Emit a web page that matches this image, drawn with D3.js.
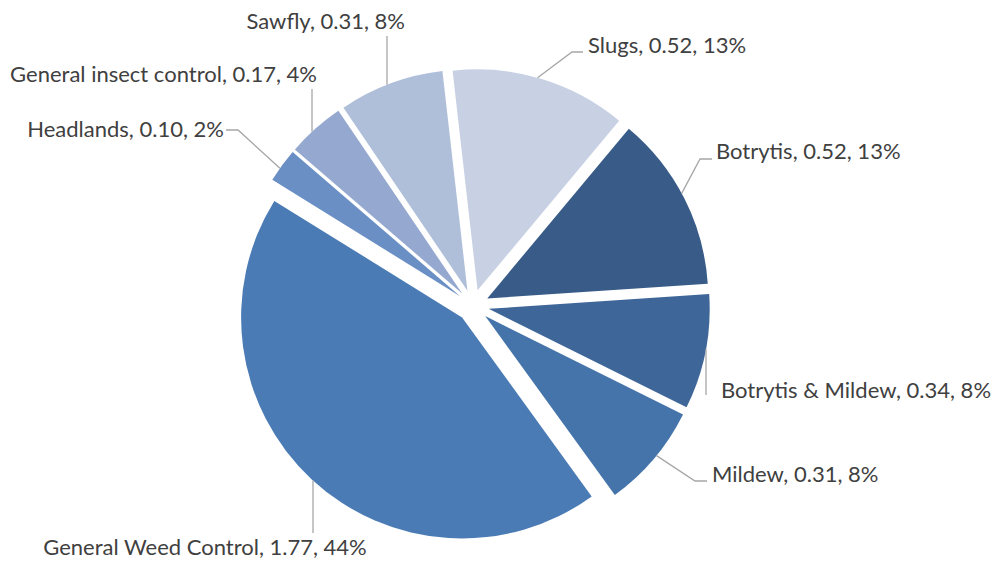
<!DOCTYPE html>
<html>
<head>
<meta charset="utf-8">
<script src="https://cdn.jsdelivr.net/npm/d3@7"></script>
<style>
  html, body { margin: 0; padding: 0; background: #fff; }
  svg { display: block; }
</style>
</head>
<body>
<div id="chart"></div>
<script>
// data
var categories = ["Slugs", "Botrytis", "Botrytis & Mildew", "Mildew",
                  "General Weed Control", "Headlands", "General insect control", "Sawfly"];
var values = [0.52, 0.52, 0.34, 0.31, 1.77, 0.10, 0.17, 0.31];
var colors = ["#c8d1e4", "#385b88", "#3e6699", "#4574aa",
              "#4a7bb5", "#6a8fc5", "#94a8d0", "#afbfda"];

// label placement (dragged by hand in the original)
var labelLayout = [
  { x: 588, y: 53,  anchor: "start",  leader: [[583, 52], [572, 52]], frac: 0.48 },
  { x: 716, y: 159, anchor: "start",  leader: [[712, 159], [700, 159]], frac: 0.47 },
  { x: 721, y: 398, anchor: "start",  leader: [[706, 395]], dropX: 706 },
  { x: 712, y: 482, anchor: "start",  leader: [[707, 481], [695, 481]], frac: 0.46 },
  { x: 205, y: 555, anchor: "middle", leader: [[313, 533]], dropX: 313 },
  { x: 224, y: 137, anchor: "end",    leader: [[226, 130], [238, 130]], frac: 0.4 },
  { x: 317, y: 82,  anchor: "end",    leader: [[312, 89]], dropX: 312 },
  { x: 405, y: 29,  anchor: "end",    leader: [[387, 36]], dropX: 387 }
];

var width = 995, height = 564;
var cx = 473, cy = 305.7;
var radius = 221;
var explode = 16;
var rotation = -6.5 * Math.PI / 180; // first slice angle

var total = d3.sum(values);
var fmtVal = d3.format(".2f");
var fmtPct = d3.format(".0%");

var svg = d3.select("#chart").append("svg")
    .attr("width", width)
    .attr("height", height);

svg.append("rect").attr("width", width).attr("height", height).attr("fill", "#fff");

var pie = d3.pie().sort(null)
    .startAngle(rotation)
    .endAngle(rotation + 2 * Math.PI)
    .value(function(d) { return d; });
var arc = d3.arc().innerRadius(0).outerRadius(radius);

var slices = pie(values);

// apex of each exploded slice
slices.forEach(function(s) {
  var mid = (s.startAngle + s.endAngle) / 2;
  s.ax = cx + explode * Math.sin(mid);
  s.ay = cy - explode * Math.cos(mid);
});

svg.append("g").selectAll("path")
  .data(slices)
  .enter().append("path")
    .attr("transform", function(d) { return "translate(" + d.ax + "," + d.ay + ")"; })
    .attr("d", arc)
    .attr("fill", function(d, i) { return colors[i]; });

// point on the outer edge of a slice
function edgePoint(s, lay) {
  var a;
  if (lay.dropX !== undefined) {
    var sn = Math.max(-1, Math.min(1, (lay.dropX - s.ax) / radius));
    var t1 = Math.asin(sn), t2 = Math.PI - t1;
    var mid = (s.startAngle + s.endAngle) / 2;
    // bring candidates near the slice's own angle range
    var cands = [t1, t2].map(function(t) {
      while (t < mid - Math.PI) t += 2 * Math.PI;
      while (t > mid + Math.PI) t -= 2 * Math.PI;
      return t;
    });
    a = Math.abs(cands[0] - mid) < Math.abs(cands[1] - mid) ? cands[0] : cands[1];
  } else {
    a = s.startAngle + lay.frac * (s.endAngle - s.startAngle);
  }
  return [s.ax + radius * Math.sin(a), s.ay - radius * Math.cos(a)];
}

var line = d3.line();

var labels = svg.append("g");

slices.forEach(function(s, i) {
  var lay = labelLayout[i];
  var pts = lay.leader.slice();
  var e = edgePoint(s, lay);
  if (lay.dropX !== undefined) e[0] = lay.dropX;
  pts.push(e);

  labels.append("path")
    .attr("d", line(pts))
    .attr("fill", "none")
    .attr("stroke", "#a6a6a6")
    .attr("stroke-width", 1.3);

  labels.append("text")
    .attr("x", lay.x)
    .attr("y", lay.y)
    .attr("text-anchor", lay.anchor)
    .style("font-family", "Lato, 'Open Sans', sans-serif")
    .style("font-size", "22px")
    .style("fill", "#404040")
    .text(categories[i] + ", " + fmtVal(values[i]) + ", " + fmtPct(values[i] / total));
});
</script>
</body>
</html>
